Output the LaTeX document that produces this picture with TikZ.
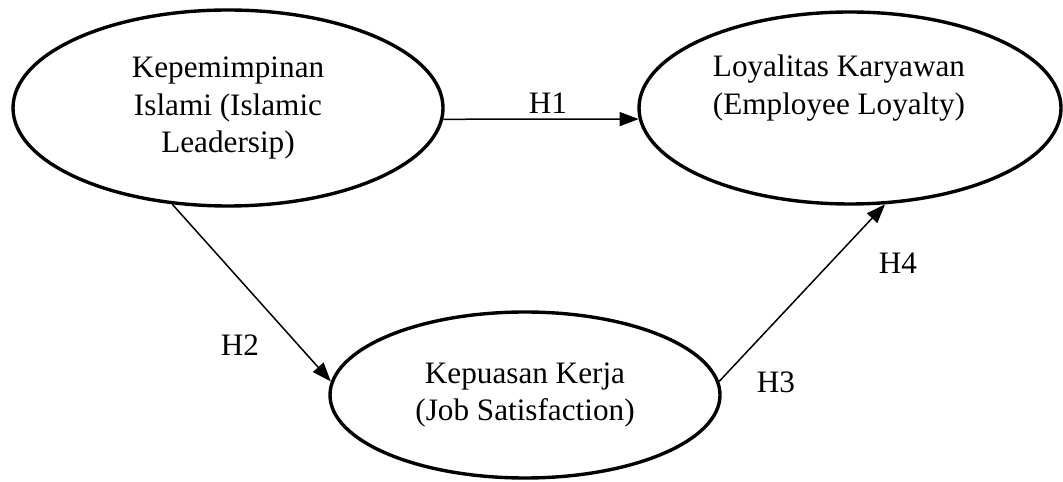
\documentclass[tikz,border=0pt]{standalone}
\usepackage{fontspec}
\setmainfont{Liberation Serif}
\usetikzlibrary{shapes.geometric,arrows.meta,positioning}
\tikzstyle{l2}=[line width=0.75pt]
\tikzstyle{vnode}=[ellipse, draw=black, line width=1.7pt, inner sep=0pt, align=center]
\tikzstyle{tnode}=[align=center, inner sep=0pt]
\tikzstyle{harrow}=[l2, -{Triangle[length=9.5pt, width=7pt]}]

\begin{document}
\begin{tikzpicture}[x=0.5pt, y=0.5pt]
    \fontsize{15.6pt}{18.8pt}\selectfont
    \useasboundingbox (0,0) rectangle (1063,481);

    % variables
    \node[vnode, minimum width=215pt, minimum height=98pt] at (228,373) (lead)
        {Kepemimpinan\\Islami (Islamic\\Leadersip)};
    \node[vnode, minimum width=211pt, minimum height=96pt] at (850,373) (loyal) {};
    \node[tnode] at (839,393) (loyaltxt) {Loyalitas Karyawan\\(Employee Loyalty)};
    \node[vnode, minimum width=195pt, minimum height=83pt] at (525,86) (sat)
        {Kepuasan Kerja\\(Job Satisfaction)};

    % hypotheses
    \draw[harrow] (lead.-3) -- (loyal.183);
    \draw[harrow] (lead.240) -- (sat.176);
    \draw[harrow] (sat.4) -- (loyal.-70);

    \node at (548,378) (h1) {H1};
    \node at (240,136) (h2) {H2};
    \node at (776,99) (h3) {H3};
    \node at (898,218) (h4) {H4};
\end{tikzpicture}
\end{document}
